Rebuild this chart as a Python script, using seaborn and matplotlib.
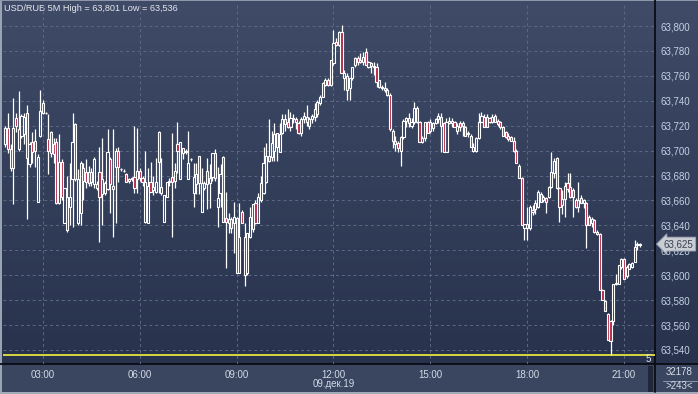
import numpy as np
import matplotlib
matplotlib.use("Agg")
import matplotlib.pyplot as plt
import seaborn as sns
from matplotlib.transforms import blended_transform_factory
from matplotlib.patches import Rectangle

sns.set_theme(style="dark")
plt.rcParams['font.family'] = ['Liberation Sans', 'DejaVu Sans']

# ---------------- data ----------------
SYMBOL = "USD/RUB 5M"
START_HOUR = 1 + 50 / 60      # first 5-minute bar at 01:50
STEP_HOURS = 5 / 60
PRICE_BASE = 63.0              # prices given in thousandths above 63.000
PIP = 0.001

opens_pts = [
    705, 718, 701, 686, 726, 701, 712, 713, 730, 689,
    707, 708, 659, 712, 738, 730, 709, 715, 705, 707,
    658, 691, 642, 636, 655, 677, 721, 642, 650, 686,
    683, 683, 683, 673, 670, 683, 665, 666, 669, 693,
    669, 687, 700, 685, 684, 681, 676, 677, 679, 677,
    684, 678, 643, 642, 675, 668, 667, 715, 666, 643,
    663, 675, 679, 676, 705, 677, 698, 699, 677, 693,
    666, 673, 696, 651, 670, 684, 674, 679, 698, 655,
    666, 695, 646, 645, 645, 642, 646, 602, 651, 600,
    602, 631, 637, 658, 642, 660, 666, 675, 696, 695,
    700, 714, 699, 714, 725, 723, 719, 726, 725, 722,
    714, 725, 727, 720, 725, 727, 729, 738, 743, 753,
    757, 753, 770, 787, 785, 795, 758, 760, 750, 758,
    769, 774, 771, 775, 779, 767, 770, 768, 767, 757,
    751, 750, 749, 745, 716, 708, 706, 700, 711, 724,
    726, 720, 723, 734, 723, 707, 710, 723, 716, 718,
    722, 725, 727, 722, 699, 724, 722, 723, 716, 722,
    722, 719, 713, 712, 700, 700, 710, 723, 727, 719,
    726, 723, 728, 724, 723, 719, 715, 712, 711, 708,
    700, 688, 678, 638, 641, 638, 652, 653, 655, 665,
    663, 662, 663, 671, 682, 694, 670, 656, 661, 674,
    671, 668, 660, 655, 662, 658, 658, 647, 642, 644,
    635, 633, 588, 579, 569, 563, 563, 593, 593, 607,
    613, 599, 605, 607, 611, 624, 624,
]
highs_pts = [
    720, 730, 705, 742, 730, 748, 729, 730, 737, 707,
    715, 717, 697, 749, 741, 731, 729, 716, 710, 710,
    713, 693, 670, 680, 690, 730, 722, 685, 692, 690,
    693, 688, 686, 695, 676, 703, 710, 676, 717, 695,
    717, 702, 703, 686, 685, 682, 678, 679, 720, 718,
    686, 680, 700, 686, 691, 680, 694, 716, 694, 664,
    675, 678, 714, 690, 723, 707, 702, 701, 716, 694,
    690, 690, 696, 686, 676, 694, 689, 698, 701, 687,
    689, 696, 667, 650, 647, 659, 647, 658, 652, 642,
    634, 655, 657, 660, 666, 680, 703, 706, 725, 716,
    722, 714, 722, 729, 729, 733, 731, 729, 727, 724,
    727, 731, 737, 727, 729, 738, 741, 745, 755, 758,
    758, 773, 797, 790, 796, 801, 765, 762, 758, 767,
    775, 776, 778, 779, 782, 772, 771, 771, 770, 757,
    753, 755, 750, 746, 717, 712, 708, 712, 725, 727,
    730, 726, 739, 736, 724, 712, 723, 724, 725, 723,
    726, 730, 730, 723, 726, 727, 726, 724, 722, 724,
    724, 720, 716, 713, 706, 711, 730, 731, 729, 729,
    727, 729, 729, 725, 724, 720, 716, 714, 712, 711,
    701, 689, 679, 641, 655, 656, 656, 660, 668, 667,
    664, 663, 672, 699, 694, 695, 671, 668, 675, 682,
    682, 670, 662, 675, 664, 661, 659, 648, 647, 645,
    636, 634, 589, 580, 570, 564, 593, 601, 608, 614,
    614, 608, 610, 611, 628, 627, 626,
]
lows_pts = [
    703, 698, 684, 657, 715, 700, 710, 705, 645, 687,
    690, 687, 659, 711, 729, 729, 681, 695, 690, 657,
    657, 660, 642, 635, 640, 639, 676, 640, 640, 660,
    670, 672, 672, 670, 668, 627, 640, 664, 668, 650,
    631, 642, 675, 684, 683, 675, 674, 676, 666, 666,
    676, 672, 642, 642, 667, 664, 666, 666, 664, 643,
    663, 672, 631, 670, 682, 677, 693, 697, 677, 692,
    655, 665, 665, 651, 668, 653, 654, 676, 676, 639,
    655, 643, 606, 634, 634, 618, 602, 602, 642, 591,
    600, 630, 635, 641, 642, 659, 665, 674, 691, 692,
    692, 692, 699, 713, 716, 718, 716, 722, 717, 713,
    712, 722, 720, 717, 722, 724, 727, 737, 743, 752,
    752, 752, 769, 784, 784, 762, 749, 741, 741, 757,
    767, 769, 770, 769, 769, 766, 762, 761, 751, 750,
    749, 747, 744, 716, 702, 700, 699, 688, 709, 719,
    719, 718, 721, 722, 707, 706, 708, 714, 714, 716,
    721, 722, 699, 699, 699, 721, 719, 719, 713, 716,
    712, 712, 711, 703, 699, 699, 709, 723, 719, 719,
    722, 722, 723, 720, 717, 712, 710, 708, 708, 699,
    690, 678, 640, 628, 628, 636, 648, 649, 654, 659,
    659, 650, 662, 670, 678, 669, 643, 649, 647, 667,
    662, 647, 654, 651, 658, 654, 622, 640, 639, 634,
    632, 588, 580, 571, 548, 536, 560, 592, 593, 605,
    597, 598, 605, 606, 611, 620, 623,
]
closes_pts = [
    718, 701, 686, 718, 720, 717, 728, 727, 694, 705,
    699, 700, 695, 732, 730, 730, 700, 698, 697, 658,
    691, 663, 670, 663, 663, 707, 677, 677, 690, 676,
    675, 674, 675, 693, 673, 663, 677, 674, 699, 673,
    672, 700, 687, 685, 684, 675, 677, 678, 670, 684,
    678, 675, 675, 672, 667, 671, 675, 691, 671, 664,
    675, 676, 675, 684, 700, 707, 702, 700, 690, 693,
    679, 681, 674, 674, 674, 673, 678, 698, 678, 662,
    681, 643, 643, 642, 638, 647, 602, 631, 642, 631,
    634, 647, 657, 642, 663, 674, 690, 696, 692, 706,
    713, 703, 713, 725, 721, 719, 726, 725, 723, 714,
    725, 728, 723, 725, 728, 733, 739, 743, 754, 757,
    753, 773, 786, 785, 795, 762, 762, 749, 758, 767,
    774, 771, 773, 771, 769, 771, 768, 767, 755, 751,
    750, 749, 745, 717, 708, 705, 702, 711, 724, 726,
    722, 723, 734, 723, 707, 710, 723, 714, 723, 722,
    725, 728, 720, 699, 723, 722, 724, 719, 720, 719,
    720, 712, 714, 703, 703, 710, 723, 728, 719, 727,
    723, 727, 723, 721, 719, 712, 711, 709, 708, 700,
    690, 678, 640, 641, 638, 655, 651, 658, 667, 659,
    660, 659, 671, 683, 692, 670, 655, 661, 672, 669,
    663, 663, 655, 660, 658, 660, 640, 640, 645, 635,
    633, 588, 580, 571, 548, 547, 593, 594, 608, 613,
    597, 607, 609, 610, 623, 625, 625,
]

y_ticks = [63.54, 63.56, 63.58, 63.60, 63.62, 63.64, 63.66, 63.68,
           63.70, 63.72, 63.74, 63.76, 63.78, 63.80]
x_ticks = [3, 6, 9, 12, 15, 18, 21]
x_labels = ["03:00", "06:00", "09:00", "12:00", "15:00", "18:00", "21:00"]
date_label = "09.дек.19"
date_tick = 12
last_price = 63.625
day_high = 63.801
day_low = 63.536
bar_count_label = "32178"
visible_label = ">243<"

assert len(opens_pts) == len(highs_pts) == len(lows_pts) == len(closes_pts)

o = PRICE_BASE + np.array(opens_pts) * PIP
h = PRICE_BASE + np.array(highs_pts) * PIP
l = PRICE_BASE + np.array(lows_pts) * PIP
c = PRICE_BASE + np.array(closes_pts) * PIP
h = np.maximum(h, np.maximum(o, c))
l = np.minimum(l, np.minimum(o, c))
t = START_HOUR + np.arange(len(o)) * STEP_HOURS

def fmt(v):
    return f"{v:.3f}".replace(".", ",")

# ---------------- figure ----------------
W, H = 698, 394
PL, PR, PT, PB = 3, 655, 3, 364
fig = plt.figure(figsize=(W / 100, H / 100), dpi=100)

bg = fig.add_axes([0, 0, 1, 1], zorder=-10)
bg.set_xlim(0, W)
bg.set_ylim(H, 0)
bg.axis("off")
top_col = np.array([63, 75, 103]) / 255
bot_col = np.array([40, 50, 77]) / 255
fr = np.linspace(0, 1, 256)[:, None, None]
grad = top_col[None, None, :] * (1 - fr) + bot_col[None, None, :] * fr
bg.imshow(grad, extent=[0, W, PB, 0], aspect="auto", interpolation="bilinear")
bg.add_patch(Rectangle((0, PB), W, 28, color="#3a465f", lw=0))
bg.add_patch(Rectangle((0, 392), W, 2, color="#a3abb9", lw=0))
bg.add_patch(Rectangle((0, 0), 1.6, 392, color="#9aa3b3", lw=0))
bg.add_patch(Rectangle((0, 0), W, 1.2, color="#8d97a9", lw=0))
bg.add_patch(Rectangle((648, 366), 5, 26, color="#1f2738", lw=0))
bg.plot([PR, PR], [0, 392], color="#0a0d14", lw=1.3)
bg.plot([0, W], [PB, PB], color="#0a0d14", lw=1.3)
bg.plot([663, 697], [380.5, 380.5], color="#8e98aa", lw=0.7)
bg.text(679, 372, bar_count_label, color="#d6dce8", fontsize=7, ha="center", va="center")
bg.text(679, 386, visible_label, color="#d6dce8", fontsize=7, ha="center", va="center")

title = f"{SYMBOL} High = {fmt(day_high)} Low = {fmt(day_low)}"
bg.text(4, 8.5, title, color="#e6e8ee", fontsize=6.6, ha="left", va="center")

ax = fig.add_axes([PL / W, (H - PB) / H, (PR - PL) / W, (PB - PT) / H])
ax.patch.set_alpha(0)
for s in ax.spines.values():
    s.set_visible(False)
ax.set_xlim(1 + 45.7 / 60, 21 + 57.6 / 60)
ax.set_ylim(63.540 - 14 / 1246, 63.800 + 23 / 1246)

ax.set_yticks(y_ticks)
ax.set_yticklabels([fmt(v) for v in y_ticks])
ax.yaxis.tick_right()
ax.set_xticks(x_ticks)
ax.set_xticklabels(x_labels)
ax.tick_params(axis="y", length=0, pad=4, labelsize=7, labelcolor="#c3d0e4")
ax.tick_params(axis="x", length=0, pad=4, labelsize=7, labelcolor="#d3dae8")
ax.grid(True, color="#5c6985", linestyle=(0, (3, 3)), lw=0.7)
ax.set_axisbelow(True)

# yellow low line
ax.axhline(day_low, color="#e4e43c", lw=1.3, zorder=2)

# candles
bw = STEP_HOURS * 0.8
body_lo = np.minimum(o, c)
body_hi = np.maximum(o, c)
up = c >= o
ax.vlines(t, body_hi, h, color="white", lw=0.9, zorder=3)
ax.vlines(t, l, body_lo, color="white", lw=0.9, zorder=3)
ax.bar(t[up], (body_hi - body_lo)[up], bottom=body_lo[up], width=bw,
       facecolor="none", edgecolor="white", lw=0.8, zorder=4)
ax.bar(t[~up], (body_hi - body_lo)[~up], bottom=body_lo[~up], width=bw,
       facecolor="#b12a49", edgecolor="white", lw=0.8, zorder=4)

# date label under 12:00
tr = blended_transform_factory(ax.transData, ax.transAxes)
ax.text(date_tick, -(384 - PB) / (PB - PT), date_label, transform=tr,
        ha="center", va="center", fontsize=7, color="#d3dae8")

# last price marker (drawn over the tick label, as in the terminal)
tr2 = blended_transform_factory(ax.transAxes, ax.transData)
ax.text(1 + 9 / (PR - PL), last_price, fmt(last_price), transform=tr2,
        ha="left", va="center", fontsize=7, color="#3a4150", clip_on=False,
        zorder=10,
        bbox=dict(boxstyle="larrow,pad=0.2", fc="#c9cdd4", ec="#9aa1ad", lw=0.6))

# small scale marker near the low line
ax.text(1 - 4 / (PR - PL), day_low - 0.003, "5", transform=tr2, ha="right",
        va="center", fontsize=7, color="#e0e4ec")

fig.savefig("out.png", dpi=100)
